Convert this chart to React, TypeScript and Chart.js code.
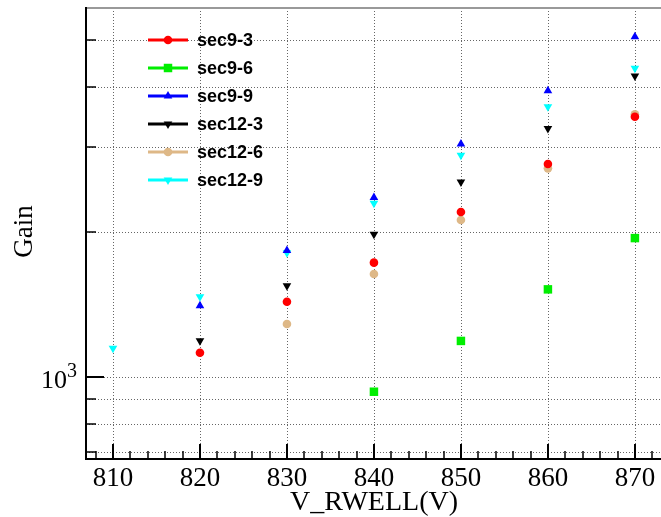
import React, { useEffect, useRef } from "react";
import { Chart, registerables } from "chart.js";

Chart.register(...registerables);

const voltages = [810, 820, 830, 840, 850, 860, 870];
const sec9_3 = [null, 1123, 1433, 1727, 2200, 2767, 3467];
const sec9_6 = [null, null, null, 932, 1188, 1520, 1942];
const sec9_9 = [null, 1406, 1830, 2358, 3043, 3927, 5083];
const sec12_3 = [null, 1189, 1547, 1977, 2539, 3280, 4213];
const sec12_6 = [null, null, 1288, 1636, 2117, 2710, 3508];
const sec12_9 = [1147, 1468, 1811, 2293, 2884, 3638, 4370];

const seriesLabels = ["sec9-3", "sec9-6", "sec9-9", "sec12-3", "sec12-6", "sec12-9"];
const seriesValues = [sec9_3, sec9_6, sec9_9, sec12_3, sec12_6, sec12_9];
const seriesColors = ["#ff0000", "#00ee00", "#0000ff", "#000000", "#deb887", "#00ffff"];
const seriesStyles = ["circle", "rect", "triangle", "triangle", "circle", "triangle"];
const seriesRotation = [0, 0, 0, 180, 0, 180];
const seriesRadius = [4.3, 6, 5, 5, 4.3, 5];

const xMajorTicks = [810, 820, 830, 840, 850, 860, 870];
const xMinorTicks = [808, 812, 814, 816, 818, 822, 824, 826, 828, 832, 834, 836, 838, 842, 844, 846, 848, 852, 854, 856, 858, 862, 864, 866, 868, 872];
const yGridValues = [700, 800, 900, 1000, 2000, 3000, 4000, 5000];
const yMajorTick = 1000;

const X_MIN = 806.9;
const X_MAX = 873.0;
const Y_MIN = 679;
const Y_MAX = 5831;

function drawMarker(ctx: CanvasRenderingContext2D, style: string, x: number, y: number, r: number, rot: number) {
  ctx.save();
  ctx.translate(x, y);
  ctx.rotate((rot * Math.PI) / 180);
  ctx.beginPath();
  if (style === "circle") {
    ctx.arc(0, 0, r, 0, Math.PI * 2);
  } else if (style === "rect") {
    const s = r * Math.SQRT1_2;
    ctx.rect(-s, -s, 2 * s, 2 * s);
  } else {
    ctx.moveTo(0, -r);
    ctx.lineTo(r * Math.sin(Math.PI / 3), r * 0.5);
    ctx.lineTo(-r * Math.sin(Math.PI / 3), r * 0.5);
    ctx.closePath();
  }
  ctx.fill();
  ctx.restore();
}

const gridPlugin = {
  id: "rootGrid",
  beforeDatasetsDraw(chart: any) {
    const { ctx, chartArea, scales } = chart;
    const xs = scales.x;
    const ys = scales.y;
    ctx.save();
    ctx.strokeStyle = "#666";
    ctx.lineWidth = 1;
    ctx.setLineDash([1, 2]);
    for (const v of xMajorTicks) {
      const px = Math.round(xs.getPixelForValue(v)) + 0.5;
      ctx.beginPath();
      ctx.moveTo(px, chartArea.top);
      ctx.lineTo(px, chartArea.bottom);
      ctx.stroke();
    }
    for (const v of yGridValues) {
      const py = Math.round(ys.getPixelForValue(v)) + 0.5;
      ctx.beginPath();
      ctx.moveTo(chartArea.left, py);
      ctx.lineTo(chartArea.right, py);
      ctx.stroke();
    }
    ctx.restore();
  },
};

const axesPlugin = {
  id: "rootAxes",
  afterDraw(chart: any) {
    const { ctx, chartArea, scales } = chart;
    const xs = scales.x;
    const ys = scales.y;
    const { left, right, top, bottom } = chartArea;
    ctx.save();
    ctx.strokeStyle = "#999";
    ctx.lineWidth = 2;
    ctx.beginPath();
    ctx.moveTo(left, top);
    ctx.lineTo(right, top);
    ctx.stroke();
    ctx.strokeStyle = "#000";
    ctx.lineWidth = 2;
    ctx.beginPath();
    ctx.moveTo(left, top - 1);
    ctx.lineTo(left, bottom + 1);
    ctx.lineTo(right, bottom + 1);
    ctx.stroke();
    ctx.lineWidth = 2;
    for (const v of xMajorTicks) {
      const px = Math.round(xs.getPixelForValue(v));
      ctx.beginPath();
      ctx.moveTo(px, bottom);
      ctx.lineTo(px, bottom - 14);
      ctx.stroke();
    }
    ctx.lineWidth = 1.5;
    for (const v of xMinorTicks) {
      const px = Math.round(xs.getPixelForValue(v));
      ctx.beginPath();
      ctx.moveTo(px, bottom);
      ctx.lineTo(px, bottom - 7);
      ctx.stroke();
    }
    for (const v of yGridValues) {
      const py = Math.round(ys.getPixelForValue(v));
      ctx.lineWidth = v === yMajorTick ? 2 : 1.5;
      ctx.beginPath();
      ctx.moveTo(left, py);
      ctx.lineTo(left + (v === yMajorTick ? 18 : 10), py);
      ctx.stroke();
    }
    ctx.fillStyle = "#000";
    ctx.font = "27px 'Liberation Serif'";
    ctx.textAlign = "center";
    ctx.textBaseline = "alphabetic";
    for (const v of xMajorTicks) {
      ctx.fillText(String(v), xs.getPixelForValue(v), 486);
    }
    const py = ys.getPixelForValue(yMajorTick);
    ctx.textAlign = "right";
    ctx.font = "26px 'Liberation Serif'";
    ctx.fillText("10", 67, py + 11);
    ctx.textAlign = "left";
    ctx.font = "20px 'Liberation Serif'";
    ctx.fillText("3", 67, py);
    ctx.font = "28px 'Liberation Serif'";
    ctx.textAlign = "right";
    ctx.fillText("V_RWELL(V)", 458, 510);
    ctx.save();
    ctx.translate(31.5, 231.5);
    ctx.rotate(-Math.PI / 2);
    ctx.textAlign = "center";
    ctx.font = "27px 'Liberation Serif'";
    ctx.fillText("Gain", 0, 0);
    ctx.restore();
    const rowY = [40, 68, 96, 124, 152, 180];
    chart.data.datasets.forEach((ds: any, i: number) => {
      const y = rowY[i];
      ctx.strokeStyle = ds.borderColor;
      ctx.lineWidth = 3;
      ctx.beginPath();
      ctx.moveTo(148, y);
      ctx.lineTo(188, y);
      ctx.stroke();
      ctx.fillStyle = ds.backgroundColor;
      drawMarker(ctx, ds.pointStyle, 168, y, ds.pointRadius, ds.rotation || 0);
      ctx.fillStyle = "#000";
      ctx.font = "bold 18px 'Liberation Sans'";
      ctx.textAlign = "left";
      ctx.textBaseline = "middle";
      ctx.fillText(ds.label, 197, y + 1);
      ctx.textBaseline = "alphabetic";
    });
    ctx.restore();
  },
};

export default function App() {
  const ref = useRef<HTMLCanvasElement | null>(null);
  useEffect(() => {
    if (!ref.current) return;
    const datasets = seriesLabels.map((label, i) => ({
      label,
      data: voltages
        .map((v, j) => ({ x: v, y: seriesValues[i][j] }))
        .filter((p) => p.y !== null),
      showLine: false,
      pointStyle: seriesStyles[i],
      rotation: seriesRotation[i],
      pointRadius: seriesRadius[i],
      pointHoverRadius: seriesRadius[i],
      pointBorderWidth: 0,
      backgroundColor: seriesColors[i],
      borderColor: seriesColors[i],
    }));
    const chart = new Chart(ref.current, {
      type: "scatter",
      data: { datasets } as any,
      options: {
        animation: false,
        responsive: false,
        events: [],
        layout: { autoPadding: false, padding: { left: 86, top: 8, right: 0, bottom: 59 } },
        plugins: { legend: { display: false }, tooltip: { enabled: false } },
        scales: {
          x: { type: "linear", min: X_MIN, max: X_MAX, display: false },
          y: { type: "logarithmic", min: Y_MIN, max: Y_MAX, display: false },
        },
      } as any,
      plugins: [gridPlugin, axesPlugin],
    });
    return () => chart.destroy();
  }, []);
  return (
    <div style={{ position: "fixed", left: 0, top: 0, width: 661, height: 517, background: "#fff" }}>
      <canvas ref={ref} width={661} height={517} style={{ width: 661, height: 517, display: "block" }} />
    </div>
  );
}
